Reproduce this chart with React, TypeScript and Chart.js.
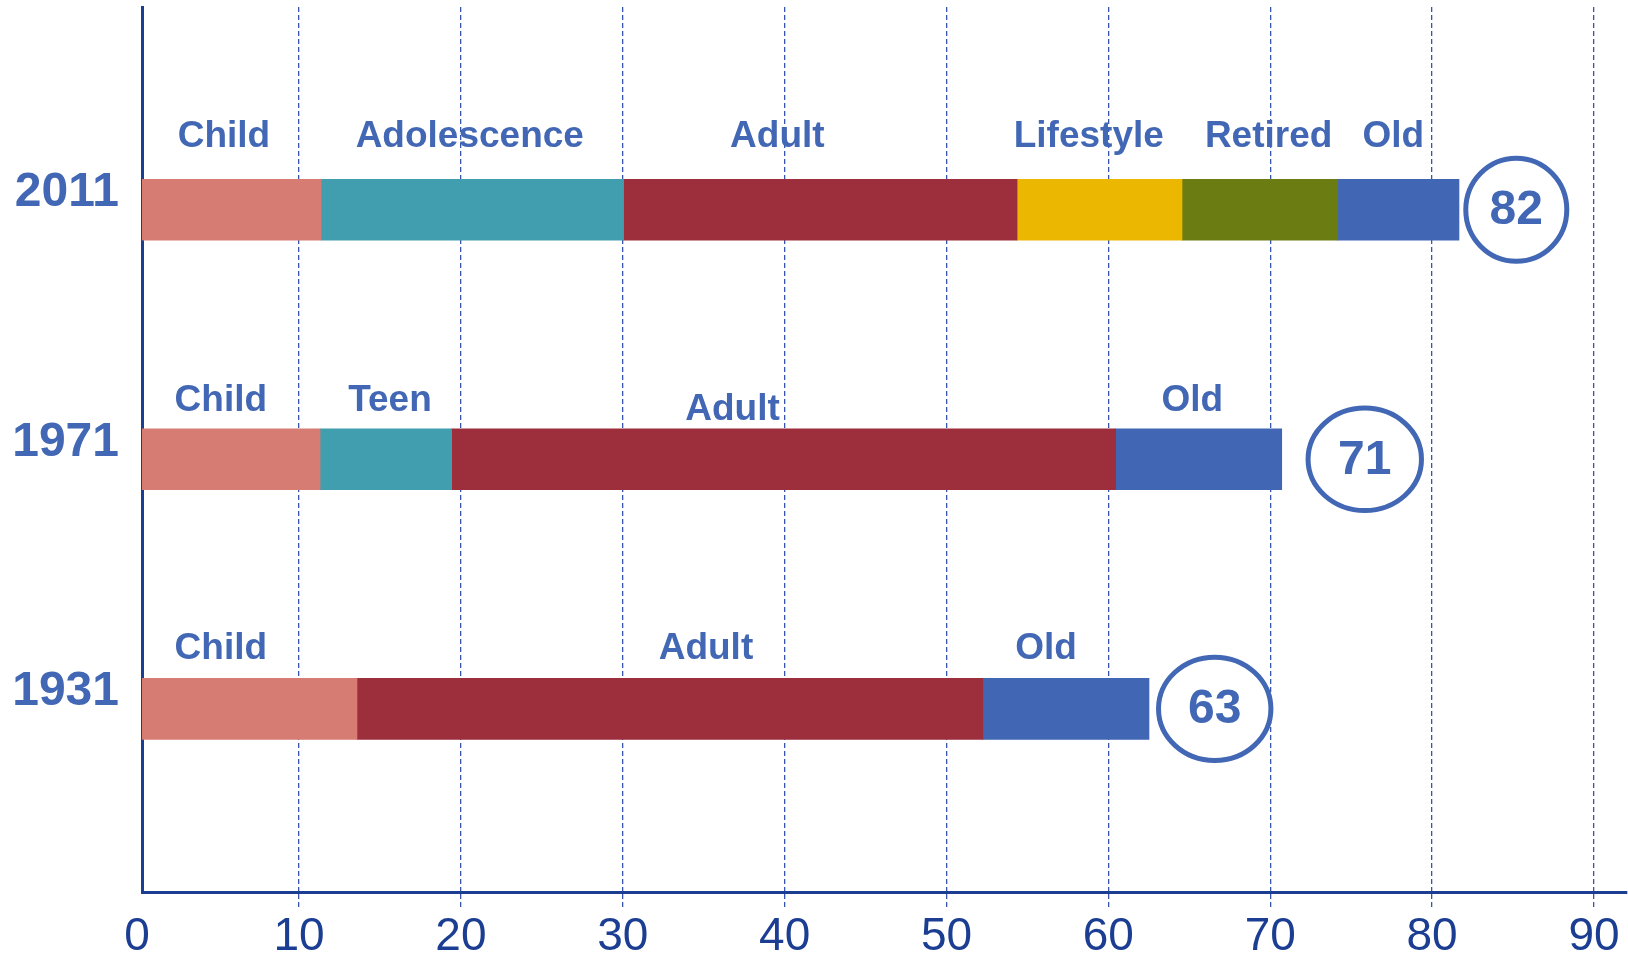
import React, { useEffect, useRef } from 'react';
import { Chart, registerables } from 'chart.js';

Chart.register(...registerables);

// ---------- data ----------
const YEARS = ['2011', '1971', '1931'];
const LIFE_EXPECTANCY = [82, 71, 63];
const X_TICKS = [0, 10, 20, 30, 40, 50, 60, 70, 80, 90];

// [start, end] in years of age, one entry per row (2011, 1971, 1931)
const CHILD = [[0, 11.36], [0, 11.3], [0, 13.58]];
const YOUTH = [[11.36, 30.05], [11.3, 19.43], null];
const ADULT = [[30.05, 54.36], [19.43, 60.45], [13.58, 52.24]];
const LIFESTYLE = [[54.36, 64.55], null, null];
const RETIRED = [[64.55, 74.17], null, null];
const OLD = [[74.17, 81.66], [60.45, 70.71], [52.24, 62.51]];

// stage captions and the age value each caption is centred on
const STAGE_NAMES = [
  ['Child', 'Adolescence', 'Adult', 'Lifestyle', 'Retired', 'Old'],
  ['Child', 'Teen', 'Adult', 'Old'],
  ['Child', 'Adult', 'Old'],
];
const STAGE_NAME_AT = [
  [5.36, 20.55, 39.55, 58.79, 69.9, 77.6],
  [5.17, 15.62, 36.78, 65.18],
  [5.17, 35.14, 56.15],
];
// age value at which each life-expectancy badge is centred
const BADGE_AT = [85.2, 75.84, 66.57];

// ---------- styles / layout ----------
const FONT = '"Liberation Sans", Arial, Helvetica, sans-serif';
const TEXT_BLUE = '#4267B4';
const NAVY = '#1B3E93';
const GRID_BLUE = '#3556AC';
const COLORS = {
  child: '#D67C73',
  youth: '#419EAF',
  adult: '#9C2F3B',
  lifestyle: '#EBB700',
  retired: '#6A7C12',
  old: '#4166B3',
};
// how far (px) each caption sits above its row centre
const LABEL_LIFT = [
  [73, 73, 73, 73, 73, 73],
  [58, 58, 49, 58],
  [60, 60, 60],
];
const BADGE_RX = [50.5, 56.7, 56.2];
const BADGE_RY = [51.5, 51.2, 51.7];

function makeDataset(label: string, rows: (number[] | null)[], color: string) {
  const data: any[] = [];
  rows.forEach((r, i) => {
    if (r) data.push({ x: r, y: i });
  });
  return {
    label,
    data,
    backgroundColor: color,
    borderWidth: 0,
    barThickness: 61,
    clip: 0,
  };
}

const annotations = {
  id: 'stageAnnotations',
  afterDatasetsDraw(chart: any) {
    const { ctx, scales } = chart;
    const x = scales.x;
    const y = scales.y;
    ctx.save();
    ctx.fillStyle = TEXT_BLUE;
    ctx.textAlign = 'center';
    ctx.textBaseline = 'middle';
    ctx.font = `bold 37px ${FONT}`;
    STAGE_NAMES.forEach((names, i) => {
      const rowY = y.getPixelForValue(i);
      names.forEach((name, j) => {
        ctx.fillText(name, x.getPixelForValue(STAGE_NAME_AT[i][j]), rowY - LABEL_LIFT[i][j]);
      });
    });
    ctx.font = `bold 48px ${FONT}`;
    ctx.strokeStyle = TEXT_BLUE;
    ctx.lineWidth = 5;
    LIFE_EXPECTANCY.forEach((v, i) => {
      const cx = x.getPixelForValue(BADGE_AT[i]);
      const cy = y.getPixelForValue(i);
      ctx.beginPath();
      ctx.ellipse(cx, cy, BADGE_RX[i], BADGE_RY[i], 0, 0, Math.PI * 2);
      ctx.stroke();
      ctx.fillText(String(v), cx, cy + 1);
    });
    ctx.restore();
  },
};

export default function App() {
  const ref = useRef<HTMLCanvasElement | null>(null);

  useEffect(() => {
    if (!ref.current) return;
    Chart.defaults.font.family = FONT;
    const gridColor = (c: any) => (c.tick && c.tick.value === 0 ? 'rgba(0,0,0,0)' : GRID_BLUE);
    const chart = new Chart(ref.current, {
      type: 'bar',
      data: {
        datasets: [
          makeDataset('Child', CHILD, COLORS.child),
          makeDataset('Adolescence / Teen', YOUTH, COLORS.youth),
          makeDataset('Adult', ADULT, COLORS.adult),
          makeDataset('Lifestyle', LIFESTYLE, COLORS.lifestyle),
          makeDataset('Retired', RETIRED, COLORS.retired),
          makeDataset('Old', OLD, COLORS.old),
        ] as any,
      },
      options: {
        indexAxis: 'y',
        responsive: false,
        animation: false,
        events: [],
        layout: { padding: { top: 7, right: 1, bottom: 0, left: 0 } },
        plugins: {
          legend: { display: false },
          tooltip: { enabled: false },
        },
        scales: {
          x: {
            type: 'linear',
            position: 'bottom',
            min: 0.3,
            max: 92.04,
            stacked: false,
            offset: false,
            afterBuildTicks: (s: any) => {
              s.ticks = X_TICKS.map((v) => ({ value: v }));
            },
            afterFit: (s: any) => {
              s.height = 66;
              s.paddingLeft = 0;
              s.paddingRight = 0;
              s.paddingTop = 0;
              s.paddingBottom = 0;
            },
            ticks: {
              autoSkip: false,
              maxRotation: 0,
              minRotation: 0,
              padding: 3,
              color: NAVY,
              font: { size: 46, family: FONT },
              callback: (v: any) => String(v),
            },
            grid: {
              display: true,
              offset: false,
              drawOnChartArea: true,
              drawTicks: true,
              color: gridColor,
              lineWidth: 1.3,
              tickLength: 15,
              tickColor: gridColor,
              tickWidth: 1.3,
              tickBorderDash: [5, 3],
            },
            border: { display: true, color: NAVY, width: 3, dash: [5, 3] },
          },
          y: {
            type: 'linear',
            position: 'left',
            reverse: true,
            min: -0.8125,
            max: 2.734,
            offset: false,
            stacked: true,
            z: 1,
            afterBuildTicks: (s: any) => {
              s.ticks = YEARS.map((_, i) => ({ value: i }));
            },
            afterFit: (s: any) => {
              s.width = 142;
              s.paddingTop = 0;
              s.paddingBottom = 0;
              s.paddingLeft = 0;
              s.paddingRight = 0;
            },
            ticks: {
              padding: 23,
              labelOffset: -17,
              color: TEXT_BLUE,
              font: { size: 48, weight: 'bold', family: FONT },
              callback: (v: any) => YEARS[v] ?? '',
            },
            grid: { display: false, offset: false, drawTicks: false },
            border: { display: true, color: NAVY, width: 3 },
          },
        },
      } as any,
      plugins: [annotations],
    });
    return () => chart.destroy();
  }, []);

  return (
    <div style={{ position: 'absolute', left: 0, top: 0, width: 1628, height: 958, background: '#fff' }}>
      <canvas ref={ref} width={1628} height={958} style={{ display: 'block', width: 1628, height: 958 }} />
    </div>
  );
}
